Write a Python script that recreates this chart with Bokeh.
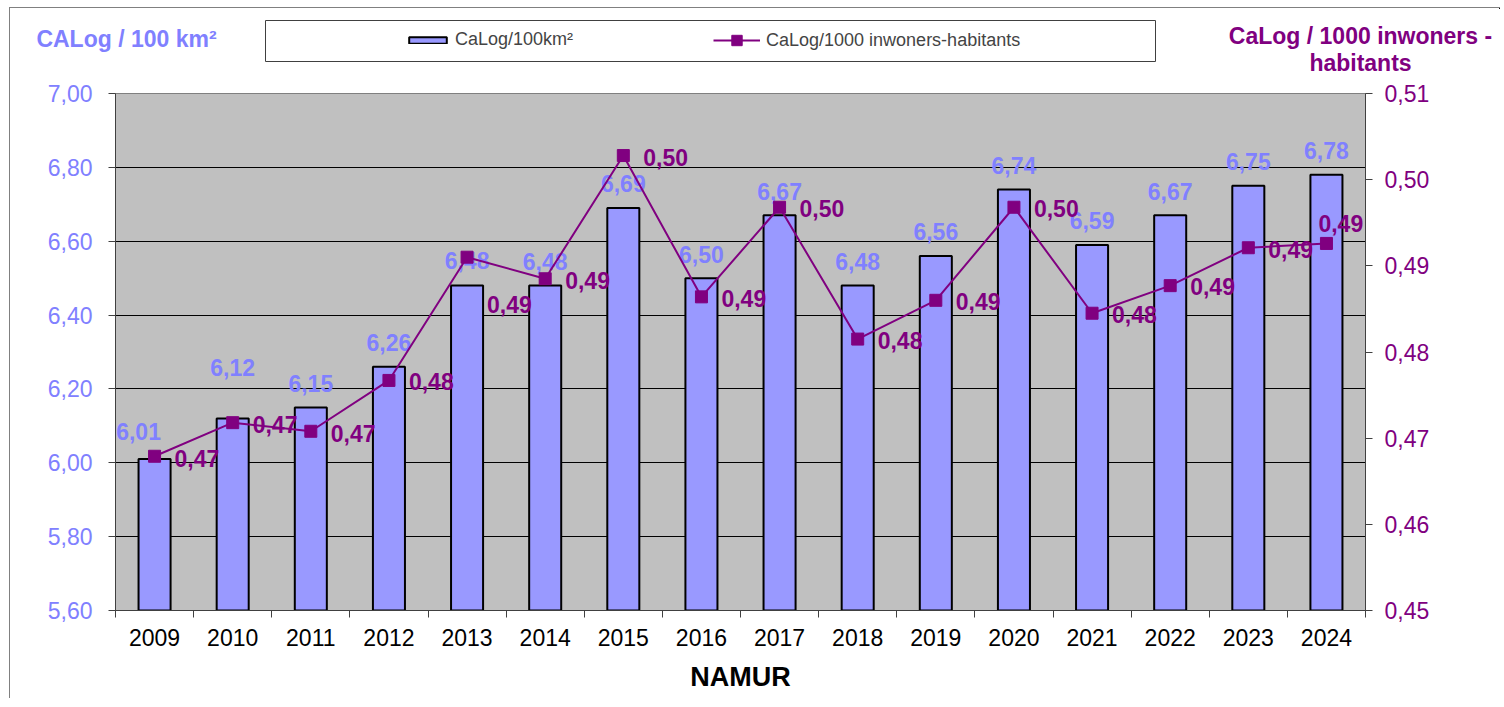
from bokeh.plotting import figure
from bokeh.layouts import column
from bokeh.models import (Range1d, LinearAxis, FixedTicker, Legend, LegendItem,
                          ColumnDataSource, CustomJSTickFormatter)
from bokeh.embed import file_html
from bokeh.resources import INLINE
from bokeh.core.properties import value

# ---------------- data ----------------
years = ["2009", "2010", "2011", "2012", "2013", "2014", "2015", "2016",
         "2017", "2018", "2019", "2020", "2021", "2022", "2023", "2024"]
calog_per_100km2 = [6.01, 6.12, 6.15, 6.26, 6.48, 6.48, 6.69, 6.50,
                    6.67, 6.48, 6.56, 6.74, 6.59, 6.67, 6.75, 6.78]
calog_per_1000_inh = [0.4679, 0.4718, 0.4708, 0.4767, 0.4910, 0.4885, 0.5028, 0.4864,
                      0.4968, 0.4815, 0.4860, 0.4968, 0.4845, 0.4877, 0.4921, 0.4926]
left_ticks = [5.6, 5.8, 6.0, 6.2, 6.4, 6.6, 6.8, 7.0]
right_ticks = [0.45, 0.46, 0.47, 0.48, 0.49, 0.50, 0.51]
left_title = "CALog / 100 km²"
right_title_lines = ["CaLog / 1000 inwoners -", "habitants"]
bar_legend = "CaLog/100km²"
line_legend = "CaLog/1000 inwoners-habitants"
x_title = "NAMUR"

# data-label offsets (px)
bar_lbl_dx = [-16, 0, 0, 0, 0, 0, 0, 0, 0, 0, 0, 0, 0, 0, 0, 0]
bar_lbl_dy = [-28, -51, -24, -24, -25, -24, -24, -24, -24, -24, -24, -24, -24, -24, -24, -24]
line_lbl_dx = [20] * 15 + [-8]
line_lbl_dy = [2, 2, 2, 1, 47, 2, 2, 2, 1, 1, 1, 1, 1, 1, 2, -20]

# ---------------- styling ----------------
FONT = "Liberation Sans"
BAR_FILL = "#9999FF"
BLUE_TXT = "#8080FF"
PURPLE = "#800080"
AXIS_COL = "#404040"
W = 1490

n = len(years)
xs = [i + 0.5 for i in range(n)]
bounds = [float(i) for i in range(n + 1)]

def fmt(v):
    return f"{v:.2f}".replace(".", ",")

tick_fmt = "return tick.toFixed(2).replace('.', ',');"

# ================= main chart =================
p = figure(width=W, frame_width=1250, frame_height=517,
           x_range=Range1d(0, n), y_range=Range1d(left_ticks[0], left_ticks[-1]),
           output_backend="svg", toolbar_location=None,
           min_border_left=105, min_border_right=135, min_border_top=13, min_border_bottom=88,
           background_fill_color="#C0C0C0", border_fill_color="white",
           outline_line_color="#808080")
p.frame_align = False
p.extra_y_ranges = {"right": Range1d(right_ticks[0], right_ticks[-1])}

p.xgrid.visible = False
p.ygrid.ticker = FixedTicker(ticks=left_ticks)
p.ygrid.grid_line_color = "black"
p.ygrid.grid_line_width = 1

ya = p.yaxis[0]
ya.ticker = FixedTicker(ticks=left_ticks)
ya.formatter = CustomJSTickFormatter(code=tick_fmt)
ya.major_label_text_font = FONT
ya.major_label_text_font_size = "23px"
ya.major_label_text_color = BLUE_TXT
ya.major_tick_out = 7
ya.major_tick_in = 0
ya.minor_tick_line_color = None
ya.axis_line_color = AXIS_COL
ya.major_tick_line_color = AXIS_COL
ya.major_label_standoff = 16

ra = LinearAxis(y_range_name="right", ticker=FixedTicker(ticks=right_ticks),
                formatter=CustomJSTickFormatter(code=tick_fmt))
ra.major_label_text_font = FONT
ra.major_label_text_font_size = "23px"
ra.major_label_text_color = PURPLE
ra.major_tick_out = 7
ra.major_tick_in = 0
ra.minor_tick_line_color = None
ra.axis_line_color = AXIS_COL
ra.major_tick_line_color = AXIS_COL
ra.major_label_standoff = 12
p.add_layout(ra, "right")

xa = p.xaxis[0]
xa.ticker = FixedTicker(ticks=xs, minor_ticks=bounds)
xa.formatter = CustomJSTickFormatter(args=dict(years=years),
                                     code="return years[Math.floor(tick)];")
xa.major_tick_line_color = None
xa.major_tick_out = 7
xa.major_tick_in = 0
xa.minor_tick_out = 7
xa.minor_tick_in = 0
xa.minor_tick_line_color = AXIS_COL
xa.axis_line_color = AXIS_COL
xa.major_label_text_font = FONT
xa.major_label_text_font_size = "23px"
xa.major_label_text_color = "black"
xa.major_label_standoff = 11
xa.axis_label = x_title
xa.axis_label_text_font = FONT
xa.axis_label_text_font_size = "27px"
xa.axis_label_text_font_style = "bold"
xa.axis_label_text_color = "black"
xa.axis_label_standoff = 13

src = ColumnDataSource(dict(
    x=xs, bar=calog_per_100km2, line=calog_per_1000_inh,
    bar_txt=[fmt(v) for v in calog_per_100km2],
    line_txt=[fmt(v) for v in calog_per_1000_inh],
    bdx=bar_lbl_dx, bdy=bar_lbl_dy, ldx=line_lbl_dx, ldy=line_lbl_dy,
))

bar_style = dict(fill_color=BAR_FILL, line_color="black", line_width=2)
line_style = dict(line_color=PURPLE, line_width=2)
mark_style = dict(marker="square", size=12, fill_color=PURPLE, line_color=PURPLE)

p.vbar(x="x", top="bar", bottom=left_ticks[0], width=0.41, source=src, **bar_style)
p.text(x="x", y="bar", text="bar_txt", source=src, x_offset="bdx", y_offset="bdy",
       text_align="center", text_baseline="middle",
       text_font=value(FONT), text_font_size="23px", text_font_style="bold",
       text_color=BLUE_TXT)
p.line(x="x", y="line", source=src, y_range_name="right", **line_style)
p.scatter(x="x", y="line", source=src, y_range_name="right", **mark_style)
p.text(x="x", y="line", text="line_txt", source=src, y_range_name="right",
       x_offset="ldx", y_offset="ldy", text_align="left", text_baseline="middle",
       text_font=value(FONT), text_font_size="23px", text_font_style="bold",
       text_color=PURPLE)

# ================= header strip (titles + legend) =================
# coordinates in this strip are page pixels (x right, y down)
h = figure(width=W, height=72, x_range=Range1d(10, 10 + W), y_range=Range1d(80, 8),
           x_axis_type=None, y_axis_type=None, min_border=0,
           outline_line_color=None, toolbar_location=None, output_backend="svg",
           background_fill_color="white", border_fill_color="white")
h.frame_align = False
h.grid.visible = False

title_src = ColumnDataSource(dict(
    x=[126, 1360, 1360], y=[38, 35, 62],
    text=[left_title] + right_title_lines,
    color=[BLUE_TXT, PURPLE, PURPLE],
))
h.text(x="x", y="y", text="text", text_color="color", source=title_src,
       text_align="center", text_baseline="middle",
       text_font=value(FONT), text_font_size="23px", text_font_style="bold")

# legend frame
h.quad(left=[265], right=[1155], top=[20], bottom=[61],
       fill_color="white", line_color=AXIS_COL, line_width=1)

# legend swatch renderers: the real series, mapped onto an off-stage range (not visible)
h.extra_x_ranges = {"offstage": Range1d(-200, -100)}
lb = h.vbar(x=xs, top=calog_per_100km2, width=0.41, x_range_name="offstage", **bar_style)
ll = h.line(x=xs, y=calog_per_1000_inh, x_range_name="offstage", **line_style)
lm = h.scatter(x=xs, y=calog_per_1000_inh, x_range_name="offstage", **mark_style)

leg_common = dict(orientation="horizontal", padding=0, margin=0, spacing=0,
                  glyph_width=47, label_height=20,
                  label_text_font=FONT, label_text_font_size="18px",
                  border_line_color=None, background_fill_alpha=0)
leg1 = Legend(items=[LegendItem(label=bar_legend, renderers=[lb])],
              location=(404 - 10, 30), glyph_height=8, label_standoff=4, **leg_common)
leg2 = Legend(items=[LegendItem(label=line_legend, renderers=[ll, lm])],
              location=(713 - 10, 27), glyph_height=26, label_standoff=6, **leg_common)
h.add_layout(leg1, "center")
h.add_layout(leg2, "center")

page = column(h, p, spacing=0,
              styles={"margin-left": "9px", "margin-top": "7px",
                      "border-top": "1px solid #808080", "border-left": "1px solid #808080"})

open("out.html", "w").write(file_html(page, INLINE))
